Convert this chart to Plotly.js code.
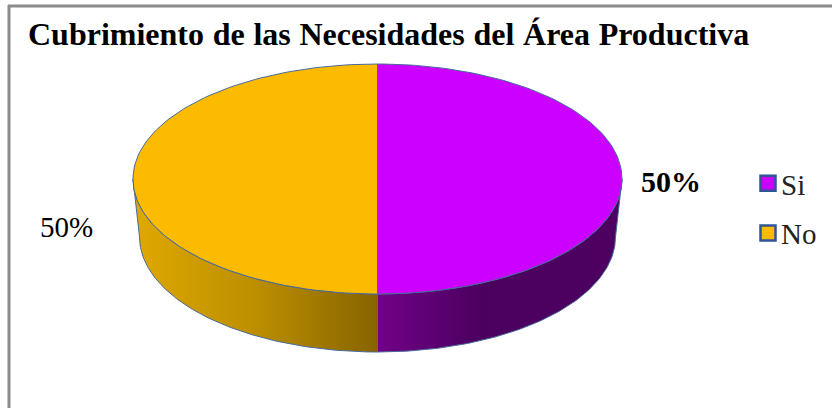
<!DOCTYPE html>
<html>
<head>
<meta charset="utf-8">
<script src="https://cdn.plot.ly/plotly-3.0.1.min.js"></script>
<style>
html,body{margin:0;padding:0;background:#fff}
#chart{width:832px;height:408px}
#chart .gtitle{word-spacing:0.7px}
#chart .legend .legendtext{transform:translateX(-7px)}
</style>
</head>
<body>
<div id="chart"></div>
<script>
// Survey answers and their colours
const categories = ['Si', 'No'];
const shares = [50, 50];
const topColors = ['#CC00FF', '#FDBB00'];
const wallScales = [
  [[0, '#720088'], [0.42, '#4B0060'], [1, '#4D0060']],
  [[0, '#E0A800'], [0.5, '#BC8F00'], [1, '#876400']]
];
const labelBold = [true, false];
const labelSizes = [30, 29];

// Tilted disc geometry in plot units; the lower rim is a little narrower
const CX = 377.5, CY = 179, RX = 244.5, RY = 115, DEPTH = 58, LOWER_RX = 238;
const EDGE = '#47699A';
const FONT = '"Liberation Serif", "Times New Roman", serif';

const total = shares.reduce((a, b) => a + b, 0);

function arc(a0, a1, dy, rx) {
  const n = 120, xs = [], ys = [];
  for (let i = 0; i <= n; i++) {
    const a = a0 + (a1 - a0) * i / n;
    xs.push(CX + rx * Math.sin(a));
    ys.push(CY - RY * Math.cos(a) + dy);
  }
  return [xs, ys];
}

const walls = [], tops = [], annotations = [];
let start = 0;
const labelSpots = [[670.5, 181], [66.5, 227]];
shares.forEach((v, i) => {
  const a0 = start, a1 = start + v / total * 2 * Math.PI;
  start = a1;

  // Only the front half of the rim faces the viewer
  const f0 = Math.max(a0, Math.PI / 2), f1 = Math.min(a1, 3 * Math.PI / 2);
  if (f1 > f0) {
    const [tx, ty] = arc(f0, f1, 0, RX);
    const [bx, by] = arc(f1, f0, DEPTH, LOWER_RX);
    const wx = tx.concat(bx, [tx[0]]), wy = ty.concat(by, [ty[0]]);
    walls.push({
      type: 'scatter', mode: 'lines', x: wx, y: wy, fill: 'toself',
      fillgradient: { type: 'horizontal', colorscale: wallScales[i],
        start: Math.min(...wx), stop: Math.max(...wx) },
      line: { color: EDGE, width: 1 }, showlegend: false, hoverinfo: 'skip'
    });
  }

  const [ax, ay] = arc(a0, a1, 0, RX);
  tops.push({
    type: 'scatter', mode: 'lines',
    x: [CX].concat(ax, [CX]), y: [CY].concat(ay, [CY]),
    fill: 'toself', fillcolor: topColors[i],
    line: { color: EDGE, width: 1 }, showlegend: false, hoverinfo: 'skip'
  });

  annotations.push({
    x: labelSpots[i][0], y: labelSpots[i][1], xref: 'x', yref: 'y', showarrow: false,
    text: labelBold[i] ? '<b>' + v + '%</b>' : v + '%',
    font: { family: FONT, size: labelSizes[i], color: '#000' }
  });
});

// Legend entries: one square swatch per category, each in its own group for row spacing
const keys = categories.map((name, i) => ({
  type: 'scatter', mode: 'markers', name, legendgroup: name, x: [null], y: [null],
  marker: { symbol: 'square', size: 15, color: topColors[i], line: { color: '#2F5597', width: 2.5 } },
  hoverinfo: 'skip'
}));

const layout = {
  width: 832, height: 408,
  margin: { l: 0, r: 0, t: 0, b: 0 },
  paper_bgcolor: '#fff', plot_bgcolor: '#fff',
  title: {
    text: '<b>Cubrimiento de las Necesidades del Área Productiva</b>',
    x: 28 / 832, xanchor: 'left', xref: 'paper',
    y: 1 - 34 / 408, yanchor: 'middle', yref: 'paper',
    font: { family: FONT, size: 32, color: '#000' }
  },
  xaxis: { range: [0, 832], visible: false, fixedrange: true },
  yaxis: { range: [408, 0], visible: false, fixedrange: true },
  showlegend: true,
  legend: {
    x: 748 / 832, xanchor: 'left', y: 1 - 158 / 408, yanchor: 'top',
    bgcolor: 'rgba(0,0,0,0)', tracegroupgap: 9,
    font: { family: FONT, size: 29, color: '#222' }
  },
  annotations,
  shapes: [
    { type: 'line', xref: 'paper', yref: 'paper', x0: 9 / 832, x1: 9 / 832, y0: 0, y1: 1 - 5 / 408,
      line: { color: '#8C8C8C', width: 3 } },
    { type: 'line', xref: 'paper', yref: 'paper', x0: 8 / 832, x1: 1, y0: 1 - 6 / 408, y1: 1 - 6 / 408,
      line: { color: '#8C8C8C', width: 3 } }
  ]
};

Plotly.newPlot('chart', walls.concat(tops, keys), layout, { displayModeBar: false, staticPlot: true });
</script>
</body>
</html>
